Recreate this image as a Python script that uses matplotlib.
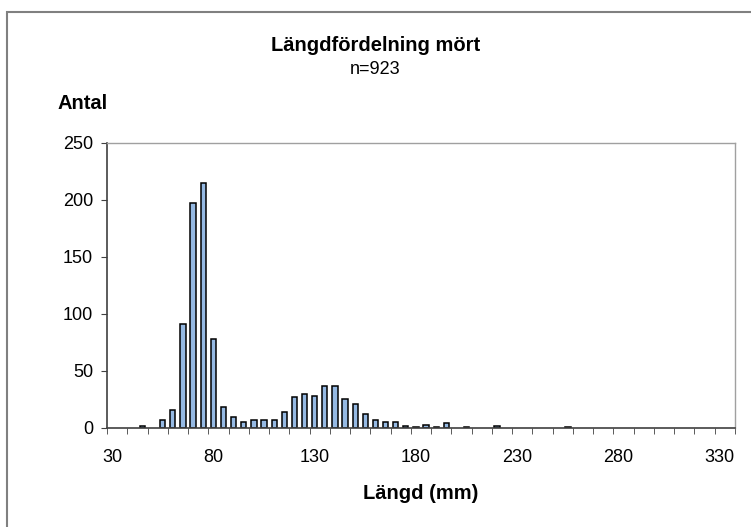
import numpy as np
import matplotlib.pyplot as plt
from matplotlib.patches import Rectangle

plt.rcParams['font.family'] = ['Liberation Sans', 'DejaVu Sans']

# length class (mm) and number of fish
lengths = [45, 55, 60, 65, 70, 75, 80, 85, 90, 95, 100, 105, 110, 115, 120,
           125, 130, 135, 140, 145, 150, 155, 160, 165, 170, 175, 180, 185,
           190, 195, 205, 220, 255]
counts = [2, 7, 16, 91, 197, 215, 78, 18, 10, 5, 7, 7, 7, 14, 27,
          30, 28, 37, 37, 25, 21, 12, 7, 5, 5, 2, 1, 3,
          1, 4, 1, 2, 1]
xlabels = [30, 80, 130, 180, 230, 280, 330]
yticks = [0, 50, 100, 150, 200, 250]

fig = plt.figure(figsize=(7.51, 5.27), dpi=100)
ax = fig.add_axes([0.1425, 0.1879, 0.8362, 0.5408])

ax.bar(lengths, counts, width=2.6, color='#95b9e3', edgecolor='black', linewidth=1.1)

ax.set_xlim(27.5, 337.5)
ax.set_ylim(0, 250)
ax.set_xticks(xlabels)
ax.set_xticklabels([str(v) for v in xlabels], fontsize=13)
ax.set_xticks(np.arange(27.5, 338, 10), minor=True)
ax.tick_params(axis='x', which='major', length=0, pad=15)
ax.tick_params(axis='x', which='minor', length=4, direction='out', color='#404040')
ax.set_yticks(yticks)
ax.set_yticklabels([str(v) for v in yticks], fontsize=13)
ax.tick_params(axis='y', length=4, direction='out', color='#404040', pad=6)

for s in ['left', 'bottom']:
    ax.spines[s].set_color('#404040')
    ax.spines[s].set_linewidth(1.2)
for s in ['top', 'right']:
    ax.spines[s].set_color('#a0a0a0')
    ax.spines[s].set_linewidth(1.0)

ax.set_xlabel('Längd (mm)', fontsize=14.5, fontweight='bold', labelpad=13)

fig.text(0.5, 0.913, 'Längdfördelning mört', ha='center', va='center',
         fontsize=14.5, fontweight='bold')
fig.text(0.5, 0.869, 'n=923', ha='center', va='center', fontsize=13)
fig.text(0.077, 0.803, 'Antal', ha='left', va='center', fontsize=14.5, fontweight='bold')

# outer chart border
fig.patches.append(Rectangle((0.0093, -0.1), 1.2, 1.077, transform=fig.transFigure,
                             fill=False, edgecolor='#808080', linewidth=1.5))

plt.savefig('out.png', dpi=100)
